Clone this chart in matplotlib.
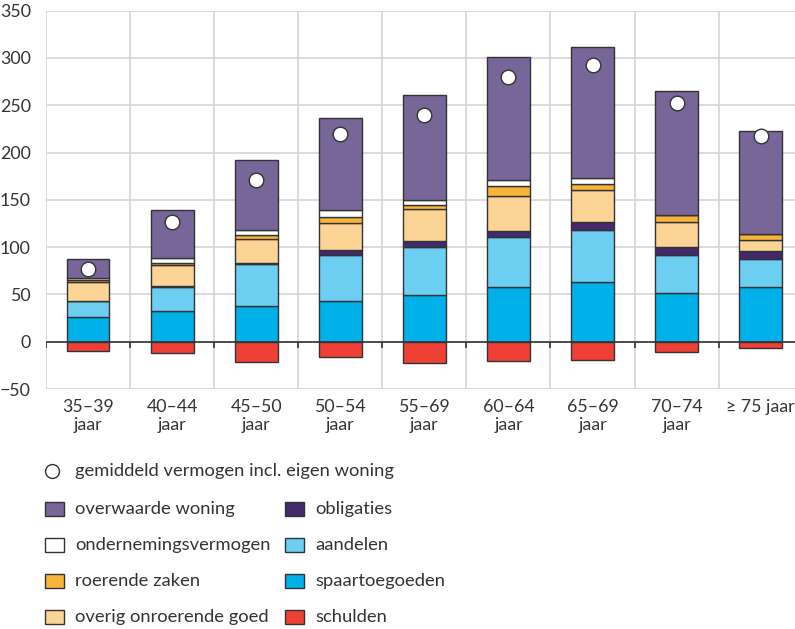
import matplotlib
matplotlib.use("Agg")
import matplotlib.pyplot as plt
import numpy as np
from matplotlib.patches import Rectangle
from matplotlib.lines import Line2D

plt.rcParams["font.family"] = ["Lato", "DejaVu Sans"]

categories = ["35–39\njaar", "40–44\njaar", "45–50\njaar", "50–54\njaar", "55–69\njaar",
              "60–64\njaar", "65–69\njaar", "70–74\njaar", "≥ 75 jaar"]

spaartegoeden = [26, 32, 38, 43.3, 49.7, 58.1, 63.1, 51.2, 58.1]
aandelen = [17, 25.8, 44.1, 48, 50.1, 52.6, 54.9, 40.4, 29.3]
obligaties = [0, 1.4, 0.9, 6, 7, 6.3, 8.2, 8.2, 8.5]
overig_onroerend = [19.8, 21.6, 25.2, 28.5, 33.2, 37.3, 33.8, 26.7, 11.9]
roerende_zaken = [2, 2.7, 4.3, 5.7, 4.2, 10.6, 7, 7, 6]
ondernemingsvermogen = [2.5, 5.3, 5.5, 7.4, 5.6, 5.7, 5.7, 0, 0]
overwaarde = [19.8, 50.7, 73.7, 97.6, 111.3, 130.7, 138.8, 131.5, 109.2]
schulden = [-9.5, -11.6, -21.1, -15.9, -22.5, -20.8, -19, -10.9, -7]
gemiddeld = [77, 127, 171, 220, 240, 280, 292.5, 252.6, 217]

# stacking order bottom -> top, with legend labels and colours
series = [
    (spaartegoeden, "spaartoegoeden", "#00b0e8"),
    (aandelen, "aandelen", "#6ccef0"),
    (obligaties, "obligaties", "#44296f"),
    (overig_onroerend, "overig onroerende goed", "#fcd596"),
    (roerende_zaken, "roerende zaken", "#f9b43a"),
    (ondernemingsvermogen, "ondernemingsvermogen", "#ffffff"),
    (overwaarde, "overwaarde woning", "#786699"),
]
schulden_color = "#ee4035"
edge = "#333333"
text_color = "#333333"
fs = 12.8
legend_fs = 13.2

W, H = 795, 629
fig = plt.figure(figsize=(W / 100, H / 100), dpi=100)
ax = fig.add_axes([46 / W, 1 - 389 / H, (802.7 - 46) / W, (389 - 10.6) / H])

x = np.arange(len(categories))
bw = 0.51
bottom = np.zeros(len(categories))
for vals, label, color in series:
    v = np.array(vals, dtype=float)
    ax.bar(x, v, bw, bottom=bottom, color=color, edgecolor=edge, linewidth=1, zorder=3)
    bottom += v
ax.bar(x, schulden, bw, color=schulden_color, edgecolor=edge, linewidth=1, zorder=3)

ax.plot(x, gemiddeld, "o", ms=10.5, mfc="white", mec=edge, mew=1, zorder=5)

ax.set_xlim(-0.5, len(categories) - 0.5)
ax.set_ylim(-50, 350)
ax.set_yticks(np.arange(-50, 351, 50))
ax.set_xticks(x, categories)
ax.set_xticks(np.arange(-0.5, len(categories)), minor=True)
ax.grid(True, which="minor", axis="x", color="#d4d4d4", lw=1.2, zorder=0)
ax.grid(True, which="major", axis="y", color="#d4d4d4", lw=1.2, zorder=0)
ax.tick_params(axis="both", which="both", length=0, labelsize=fs, colors=text_color)
ax.tick_params(axis="y", pad=11)
ax.tick_params(axis="x", pad=7)
for lab in ax.get_xticklabels():
    lab.set_linespacing(1.2)
for s in ax.spines.values():
    s.set_visible(False)

ax.axhline(0, color=edge, lw=1.2, zorder=4)
ax.vlines(np.arange(-0.5, len(categories)), -6.5, 0, color=edge, lw=1.2, zorder=4)

# legend drawn manually in figure pixels
def fy(py):
    return 1 - py / H

fig.add_artist(Line2D([52 / W], [fy(471)], marker="o", ms=10, mfc="white",
                      mec=edge, mew=1, transform=fig.transFigure))
fig.text(75 / W, fy(471), "gemiddeld vermogen incl. eigen woning", va="center",
         fontsize=legend_fs, color=text_color)

col1 = [("overwaarde woning", "#786699"), ("ondernemingsvermogen", "#ffffff"),
        ("roerende zaken", "#f9b43a"), ("overig onroerende goed", "#fcd596")]
col2 = [("obligaties", "#44296f"), ("aandelen", "#6ccef0"),
        ("spaartoegoeden", "#00b0e8"), ("schulden", schulden_color)]
rows_y = [509, 545, 581, 617]
for (items, px, tx) in [(col1, 45, 75), (col2, 285, 315)]:
    for (label, color), py in zip(items, rows_y):
        fig.add_artist(Rectangle((px / W, fy(py + 7)), 19 / W, 14 / H, facecolor=color,
                                 edgecolor=edge, lw=1, transform=fig.transFigure))
        fig.text(tx / W, fy(py), label, va="center", fontsize=legend_fs, color=text_color)

fig.savefig("out.png", dpi=100)
